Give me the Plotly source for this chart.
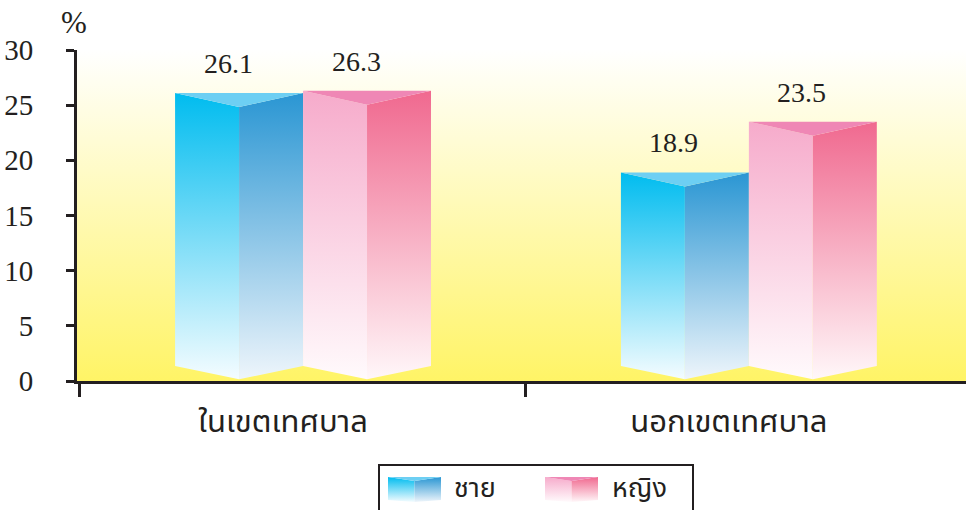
import plotly.graph_objects as go

# ---- data -------------------------------------------------------------
categories = ["ในเขตเทศบาล", "นอกเขตเทศบาล"]
series_names = ["ชาย", "หญิง"]
male = [26.1, 18.9]
female = [26.3, 23.5]
y_ticks = [0, 5, 10, 15, 20, 25, 30]

# ---- styling ----------------------------------------------------------
INK = "#231F20"
SERIF = "Liberation Serif"
THAI = "Noto Sans Thai, sans-serif"

W, H = 966, 510
X_RANGE = [-0.507, 1.487]
Y_RANGE = [0, 30]
BAR_W = 0.287        # width of one prism, category units
TOP_DIP = 1.27       # front edge of the top sits this far below the back corners
BASE_BACK = 1.36     # back corners of the base
BASE_FRONT = 0.15    # front edge of the base

STYLES = {
    "ชาย": dict(left=("#F4FCFF", "#00BCEF"), right=("#EEF5FB", "#2A96D3"), top="#6DCFF3"),
    "หญิง": dict(left=("#FFFAFC", "#F6ABCB"), right=("#FFF7F9", "#F0698F"), top="#EF87B5"),
}


def face(xs, ys, axes, bottom=None, top=None, solid=None):
    kw = dict(x=xs, y=ys, mode="lines", fill="toself", line=dict(width=0),
              hoverinfo="skip", showlegend=False, xaxis=axes[0], yaxis=axes[1])
    if solid:
        kw["fillcolor"] = solid
    else:
        kw["fillgradient"] = dict(type="vertical", colorscale=[[0, bottom], [1, top]])
    return go.Scatter(**kw)


def prism(x0, x1, v, style, axes, dip, base_back, base_front):
    xm = (x0 + x1) / 2
    return [
        face([x0, xm, xm, x0], [base_back, base_front, v - dip, v], axes, *style["left"]),
        face([xm, x1, x1, xm], [base_front, base_back, v, v - dip], axes, *style["right"]),
        face([x0, xm, x1], [v, v - dip, v], axes, solid=style["top"]),
    ]


fig = go.Figure()

# plot-area wash: white at the top fading to yellow at the base
fig.add_trace(go.Scatter(
    x=[X_RANGE[0], X_RANGE[1], X_RANGE[1], X_RANGE[0]],
    y=[Y_RANGE[0], Y_RANGE[0], Y_RANGE[1], Y_RANGE[1]],
    mode="lines", fill="toself", line=dict(width=0), hoverinfo="skip", showlegend=False,
    fillgradient=dict(type="vertical", colorscale=[[0, "#FFF466"], [1, "#FFFFFF"]]),
))

annotations = []
for i, cat in enumerate(categories):
    for name, vals, x0 in ((series_names[0], male, i - BAR_W), (series_names[1], female, i)):
        v = vals[i]
        for tr in prism(x0, x0 + BAR_W, v, STYLES[name], ("x", "y"), TOP_DIP, BASE_BACK, BASE_FRONT):
            fig.add_trace(tr)
        annotations.append(dict(
            x=x0 + BAR_W / 2, y=v, xref="x", yref="y", text=f"{v}", showarrow=False,
            yanchor="bottom", yshift=12, xshift=-11,
            font=dict(family=SERIF, size=28, color=INK),
        ))

# legend swatches on their own small axes
LEG_AX = ("x2", "y2")
for name, lx in ((series_names[0], 0), (series_names[1], 157)):
    for tr in prism(lx, lx + 53, 25, STYLES[name], LEG_AX, 4, 2, 0):
        fig.add_trace(tr)

annotations += [
    dict(x=452 / W, y=1 - 488 / H, xref="paper", yref="paper", text=series_names[0],
         showarrow=False, xanchor="left", yanchor="middle",
         font=dict(family=THAI, size=27, color=INK)),
    dict(x=610 / W, y=1 - 488 / H, xref="paper", yref="paper", text=series_names[1],
         showarrow=False, xanchor="left", yanchor="middle",
         font=dict(family=THAI, size=27, color=INK)),
    dict(x=74 / W, y=1 - 23 / H, xref="paper", yref="paper", text="%",
         showarrow=False, xanchor="center", yanchor="middle",
         font=dict(family=SERIF, size=31, color=INK)),
]

fig.update_layout(
    width=W, height=H, margin=dict(l=0, r=0, t=0, b=0, autoexpand=False),
    paper_bgcolor="white", plot_bgcolor="rgba(0,0,0,0)", showlegend=False,
    annotations=annotations,
    shapes=[dict(type="rect", xref="paper", yref="paper",
                 x0=379 / W, x1=693 / W, y0=-0.1, y1=1 - 465 / H,
                 line=dict(color=INK, width=2), fillcolor="rgba(0,0,0,0)")],
    xaxis=dict(
        domain=[77 / W, 1.0], range=X_RANGE, showgrid=False, zeroline=False,
        automargin=False, showline=True, linecolor=INK, linewidth=3,
        tickmode="array", tickvals=list(range(len(categories))), ticktext=categories,
        ticks="", ticklabelshift=-20, ticklabelstandoff=11,
        tickfont=dict(family=THAI, size=31, color=INK),
        minor=dict(tickmode="array", tickvals=[X_RANGE[0] + 0.006, 0.5], ticks="outside",
                   ticklen=13, tickwidth=3, tickcolor=INK),
    ),
    yaxis=dict(
        domain=[1 - 381 / H, 1 - 50 / H], range=Y_RANGE, showgrid=False, zeroline=False,
        automargin=False, showline=True, linecolor=INK, linewidth=3,
        tickmode="array", tickvals=y_ticks, ticks="outside", ticklen=8, tickwidth=3,
        tickcolor=INK, ticklabelstandoff=27,
        tickfont=dict(family=SERIF, size=29, color=INK),
    ),
    xaxis2=dict(domain=[388 / W, 598 / W], range=[0, 210], visible=False,
                fixedrange=True, automargin=False, anchor="y2"),
    yaxis2=dict(domain=[1 - 502 / H, 1 - 477 / H], range=[0, 25], visible=False,
                fixedrange=True, automargin=False, anchor="x2"),
)

fig.write_html("out.html")
